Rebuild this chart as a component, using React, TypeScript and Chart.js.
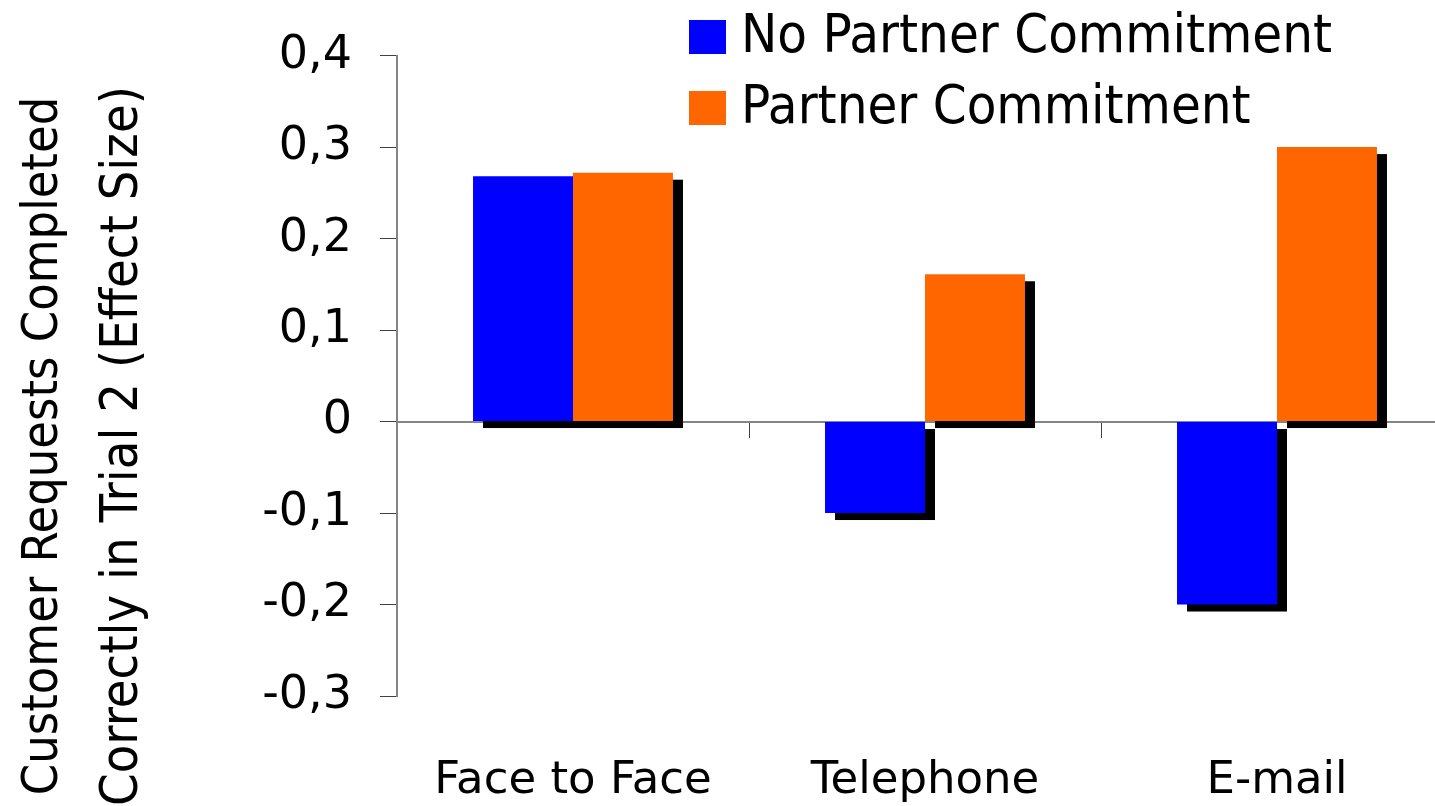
import React, { useEffect, useRef } from "react";
import { Chart, registerables } from "chart.js";

Chart.register(...registerables);

const categories = ["Face to Face", "Telephone", "E-mail"];
const noCommitment = [0.268, -0.1, -0.2];
const commitment = [0.272, 0.161, 0.3];
const seriesNames = ["No Partner Commitment", "Partner Commitment"];
const seriesColors = ["#0000FF", "#FF6600"];
const yTitleLines = ["Customer Requests Completed", "Correctly in Trial 2 (Effect Size)"];

const FONT_C = "'DejaVu Sans Condensed', 'DejaVu Sans', sans-serif";
const FONT = "'DejaVu Sans', sans-serif";

const shadowPlugin = {
  id: "barShadow",
  beforeDatasetsDraw(chart: any) {
    const ctx = chart.ctx;
    ctx.save();
    ctx.fillStyle = "#000000";
    chart.data.datasets.forEach((_: any, i: number) => {
      const meta = chart.getDatasetMeta(i);
      meta.data.forEach((bar: any) => {
        const p = bar.getProps(["x", "y", "base", "width"], true);
        const left = p.x - p.width / 2;
        const top = Math.min(p.y, p.base);
        const h = Math.abs(p.base - p.y);
        ctx.fillRect(left + 10, top + 7, p.width, h);
      });
    });
    ctx.restore();
  },
};

const decorPlugin = {
  id: "decor",
  afterDraw(chart: any) {
    const ctx = chart.ctx;
    ctx.save();
    const ds = chart.data.datasets;
    const rows = [
      { boxTop: 20, baseline: 52 },
      { boxTop: 91, baseline: 123 },
    ];
    ds.forEach((d: any, i: number) => {
      const r = rows[i];
      ctx.fillStyle = d.backgroundColor;
      ctx.fillRect(689, r.boxTop, 37, 34);
      ctx.fillStyle = "#000000";
      ctx.font = `54px ${FONT_C}`;
      ctx.textAlign = "left";
      ctx.textBaseline = "alphabetic";
      ctx.fillText(d.label, 741, r.baseline);
    });
    ctx.font = `50px ${FONT_C}`;
    ctx.fillStyle = "#000000";
    ctx.textAlign = "center";
    ctx.textBaseline = "alphabetic";
    const baselinesX = [57, 137];
    const sizes = [50, 52];
    yTitleLines.forEach((line, i) => {
      ctx.save();
      ctx.font = `${sizes[i]}px ${FONT_C}`;
      ctx.translate(baselinesX[i], 446);
      ctx.rotate(-Math.PI / 2);
      ctx.fillText(line, 0, 0);
      ctx.restore();
    });
    ctx.restore();
  },
};

function fmt(v: number) {
  if (Math.abs(v) < 1e-9) return "0";
  return v.toFixed(1).replace(".", ",");
}

export default function App() {
  const ref = useRef<HTMLCanvasElement>(null);
  useEffect(() => {
    if (!ref.current) return;
    const chart = new Chart(ref.current, {
      type: "bar",
      data: {
        labels: categories,
        datasets: [
          { label: seriesNames[0], data: noCommitment, backgroundColor: seriesColors[0] },
          { label: seriesNames[1], data: commitment, backgroundColor: seriesColors[1] },
        ],
      },
      plugins: [shadowPlugin, decorPlugin],
      options: {
        responsive: false,
        animation: false,
        events: [],
        layout: { padding: { top: 54, right: 7, left: 0, bottom: 0 } },
        datasets: {
          bar: { categoryPercentage: 0.568, barPercentage: 1, borderWidth: 0 },
        },
        plugins: { legend: { display: false }, tooltip: { enabled: false }, title: { display: false } },
        scales: {
          x: {
            type: "category",
            position: "bottom",
            grid: { display: false, drawTicks: false },
            border: { display: false },
            ticks: {
              color: "#000000",
              font: { family: FONT, size: 45 },
              padding: 58,
              maxRotation: 0,
              autoSkip: false,
            },
            afterFit(scale: any) {
              scale.height = 110;
            },
          },
          x2: {
            type: "category",
            position: { y: 0 } as any,
            offset: true,
            z: 1,
            grid: {
              offset: true,
              drawOnChartArea: false,
              drawTicks: true,
              tickLength: 15,
              color: "#404040",
              lineWidth: 1,
            },
            border: { display: true, color: "#858585", width: 2 },
            ticks: { display: false },
          },
          y: {
            min: -0.3,
            max: 0.4,
            position: "left",
            grid: {
              drawOnChartArea: false,
              drawTicks: true,
              tickLength: 17,
              color: "#404040",
              lineWidth: 1,
            },
            border: { display: true, color: "#858585", width: 2 },
            ticks: {
              stepSize: 0.1,
              color: "#000000",
              font: { family: FONT, size: 46 },
              padding: 28,
              callback: (v: any) => fmt(Number(v)),
            },
            afterFit(scale: any) {
              scale.width = 397;
            },
          },
        },
      } as any,
    });
    return () => chart.destroy();
  }, []);
  return (
    <div
      style={{
        position: "fixed",
        left: 0,
        top: 0,
        width: 1435,
        height: 806,
        overflow: "hidden",
        background: "#ffffff",
      }}
    >
      <canvas ref={ref} width={1460} height={806} style={{ display: "block" }} />
    </div>
  );
}
